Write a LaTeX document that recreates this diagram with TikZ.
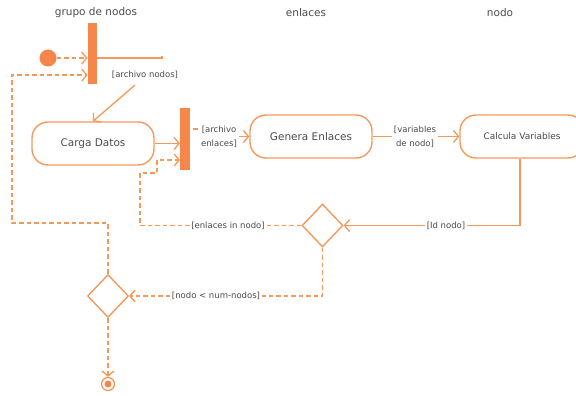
\documentclass[tikz,border=0pt]{standalone}
\usepackage{fontspec}
\setmainfont{DejaVu Sans}
\usetikzlibrary{arrows.meta,shapes.geometric}
\definecolor{flow}{HTML}{F4995A}
\definecolor{barfill}{HTML}{F5874A}
\definecolor{ink}{HTML}{4A4A4A}
\tikzset{
  every node/.style={text=ink},
  action/.style={draw=flow, line width=1.4pt, rounded corners=16pt, minimum height=43pt, font=\fontsize{10.5}{13}\selectfont},
  syncbar/.style={fill=barfill, draw=none, minimum width=9.5pt, inner sep=0pt},
  choice/.style={draw=flow, line width=1.4pt, diamond, minimum width=41pt, minimum height=43pt, inner sep=0pt},
  guard/.style={font=\fontsize{8.5}{14}\selectfont, inner sep=1.5pt, fill=white, align=center},
  heading/.style={font=\fontsize{10.5}{12}\selectfont},
  flowline/.style={draw=flow, line width=1.3pt},
  dashflow/.style={flowline, dash pattern=on 4.5pt off 3pt},
  tip/.style={-{Straight Barb[length=5pt,width=12pt,line width=1.3pt]}},
}
\begin{document}
\begin{tikzpicture}[x=1pt,y=-1pt]
\useasboundingbox (0,0) rectangle (576,396);

% column headings
\node[heading] (h1) at (96,13) {grupo de nodos};
\node[heading] (h2) at (306,13) {enlaces};
\node[heading] (h3) at (500,13) {nodo};

% start and end
\node[circle, fill=barfill, minimum size=17pt, inner sep=0pt] (start) at (48,58) {};
\node[circle, draw=flow, line width=1.3pt, minimum size=13pt, inner sep=0pt] (stop) at (108,384) {};
\node[circle, fill=barfill, minimum size=7pt, inner sep=0pt] (stopin) at (108,384) {};

% synchronisation bars
\node[syncbar, minimum height=61pt] (bar1) at (92.5,53.5) {};
\node[syncbar, minimum height=62pt] (bar2) at (185,139) {};

% actions
\node[action, minimum width=122pt] (carga) at (93,143.5) {Carga Datos};
\node[action, minimum width=122pt] (genera) at (311,136.5) {Genera Enlaces};
\node[action, minimum width=124pt, font=\fontsize{9}{11}\selectfont] (calcula) at (522,136.5) {Calcula Variables};

% decisions
\node[choice] (d2) at (322.5,225.5) {};
\node[choice] (d1) at (108,296) {};

% guard labels
\node[guard] (gnodos) at (145,75) {[archivo nodos]};
\node[guard] (genl) at (219,136.5) {[archivo\\enlaces]};
\node[guard] (gvar) at (415,136.5) {[variables\\de nodo]};
\node[guard] (gid) at (446,225.5) {[Id nodo]};
\node[guard] (gin) at (228,225.5) {[enlaces in nodo]};
\node[guard] (gnum) at (216,296) {[nodo < num-nodos]};

\coordinate (c1) at (162,58);
\coordinate (c2) at (135,85);

% flows
\draw[dashflow, tip] (start.east) -- (bar1.west |- start.east);
\draw[flowline] (bar1.east |- c1) -- (c1) -- ++(0,-2);
\draw[flowline, tip] (c2) -- (carga.north);
\draw[flowline, tip] (carga.east) -- (bar2.west |- carga.east);
\draw[flowline] (bar2.east |- 0,129) ++(3,0) -- ++(5,0);
\draw[flowline, tip] (genl.east) -- (genera.west);
\draw[flowline] (genera.east) -- (gvar.west);
\draw[flowline, tip] (gvar.east) -- (calcula.west);
\draw[flowline] (calcula.south -| 520,0) -- (520,225.5) -- (gid.east);
\draw[flowline, tip] (gid.west) -- (d2.east);
\draw[dashflow] (d2.west) -- (gin.east);
\draw[dashflow, tip] (gin.west) -- (140,225.5) -- (140,173) -- (157,173) -- (157,160) -- (bar2.west |- 0,160);
\draw[dashflow] (d2.south) -- (d2.south |- d1.east) -- (gnum.east);
\draw[dashflow, tip] (gnum.west) -- (d1.east);
\draw[dashflow, tip] (d1.north) -- (108,223) -- (12,223) -- (12,75) -- (bar1.west |- 0,75);
\draw[dashflow, tip] (d1.south) -- (stop.north);
\end{tikzpicture}
\end{document}
